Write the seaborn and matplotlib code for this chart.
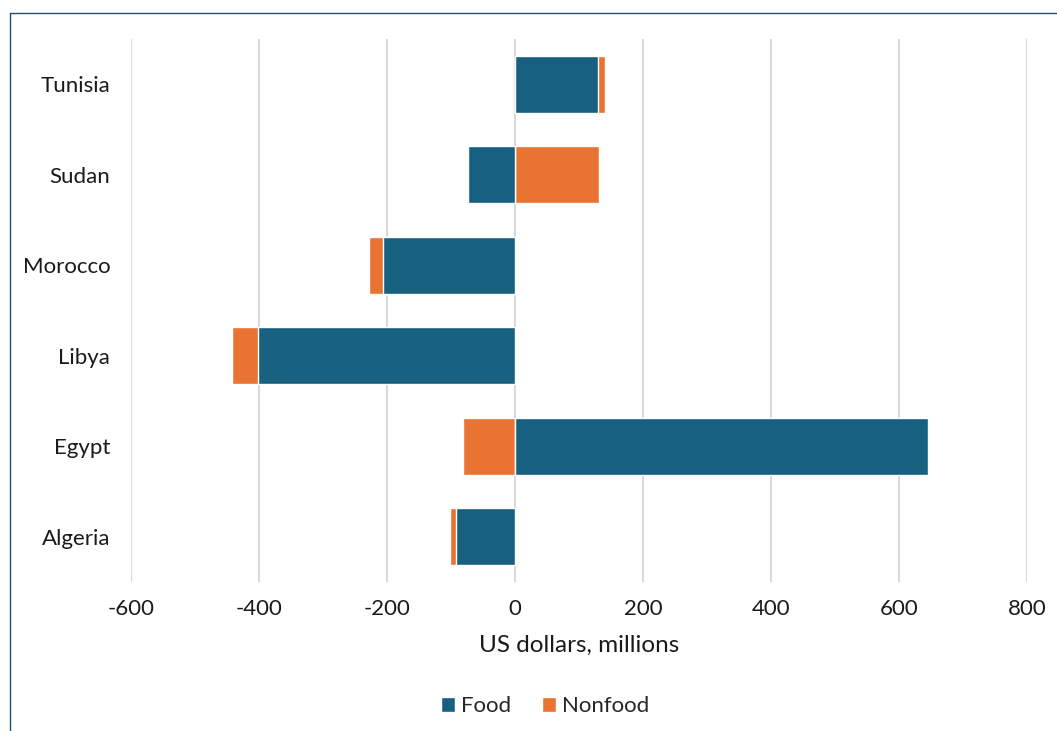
import matplotlib
matplotlib.use("Agg")
import matplotlib.pyplot as plt
from matplotlib.lines import Line2D
from matplotlib.patches import Patch
import seaborn as sns
import pandas as pd
import numpy as np

countries = ["Tunisia", "Sudan", "Morocco", "Libya", "Egypt", "Algeria"]
food = [129, -73, -207, -402, 645, -92]
nonfood = [12, 131, -21, -40, -81, -10]

FOOD_COLOR = "#17607F"
NONFOOD_COLOR = "#E97333"

sns.set_theme(style="white")
plt.rcParams["font.family"] = ["Lato", "DejaVu Sans"]

df = pd.DataFrame({"country": countries, "food": food, "nonfood": nonfood})
# Positive and negative parts stack away from zero independently
same_sign = np.sign(df["food"]) == np.sign(df["nonfood"])
df["nonfood_end"] = np.where(same_sign, df["food"] + df["nonfood"], df["nonfood"])

fig = plt.figure(figsize=(10.57, 7.31), dpi=100)
ax = fig.add_axes([131 / 1057, 1 - 582 / 731, (1027 - 131) / 1057, (582 - 39) / 731])

sns.barplot(data=df, y="country", x="nonfood_end", order=countries, orient="h",
            color=NONFOOD_COLOR, width=0.63, saturation=1, ax=ax, zorder=2)
sns.barplot(data=df, y="country", x="food", order=countries, orient="h",
            color=FOOD_COLOR, width=0.63, saturation=1, ax=ax, zorder=3)

ax.set_xlim(-600, 800)
ax.set_ylim(5.5, -0.5)
ax.set_xticks(range(-600, 801, 200))
ax.set_xticklabels([str(v) for v in range(-600, 801, 200)])
ax.xaxis.grid(True, color="#D9D9D9", linewidth=1.5, zorder=0)
ax.set_axisbelow(True)
for s in ax.spines.values():
    s.set_visible(False)
ax.tick_params(axis="both", length=0, labelsize=16, colors="#1A1A1A")
ax.tick_params(axis="x", pad=12)
ax.tick_params(axis="y", pad=15)
ax.set_ylabel("")
ax.set_xlabel("US dollars, millions", fontsize=17.5, color="#1A1A1A", labelpad=12)

handles = [Patch(facecolor=FOOD_COLOR, label="Food"),
           Patch(facecolor=NONFOOD_COLOR, label="Nonfood")]
fig.legend(handles=handles, loc="center", bbox_to_anchor=(545 / 1057, 1 - 706 / 731),
           ncol=2, frameon=False, fontsize=16, handlelength=0.65, handleheight=0.65,
           handletextpad=0.25, columnspacing=1.4)

# Partial chart frame along the top and left edges
frame_color = "#1F5068"
fig.add_artist(Line2D([10 / 1057, 10 / 1057], [0, 1 - 13 / 731], transform=fig.transFigure,
                      color=frame_color, linewidth=1.0))
fig.add_artist(Line2D([10 / 1057, 1], [1 - 13 / 731, 1 - 13 / 731], transform=fig.transFigure,
                      color=frame_color, linewidth=1.0))

fig.savefig("out.png", dpi=100, facecolor="white")
